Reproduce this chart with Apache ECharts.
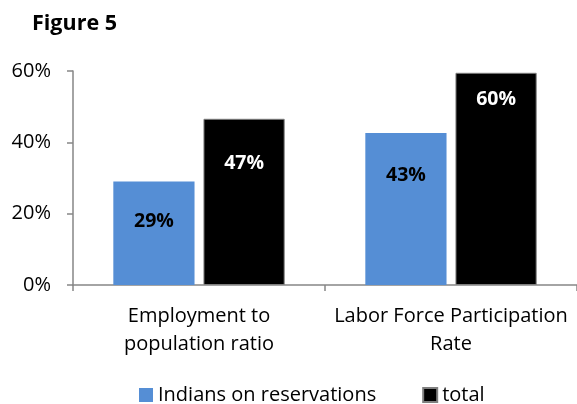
<!DOCTYPE html>
<html><head><meta charset="utf-8">
<script src="https://cdn.jsdelivr.net/npm/echarts@6/dist/echarts.min.js"></script>
<style>html,body{margin:0;padding:0;background:#fff}#c{width:577px;height:404px}</style>
</head><body><div id="c"></div>
<script>
const categories = ['Employment to\npopulation ratio', 'Labor Force Participation\nRate'];
const seriesNames = ['Indians on reservations', 'total'];
const indians = [29.0, 42.6];
const total = [46.6, 59.5];
const yTicks = [0, 20, 40, 60];

const FONT = 'Open Sans';
const labelDist = [[30, 32], [35, 17]];
const chart = echarts.init(document.getElementById('c'));
function mk(name, vals, color, txt, dists, border) {
  return {
    name, type: 'bar', barGap: '11%', barCategoryGap: '32%',
    itemStyle: { color, borderColor: border, borderWidth: border ? 1 : 0 },
    data: vals.map((v, i) => ({
      value: v,
      label: { show: true, position: 'insideTop', distance: dists[i], color: txt,
        fontFamily: FONT, fontWeight: 'bold', fontSize: 19.5,
        formatter: p => Math.round(p.value) + '%' }
    }))
  };
}
chart.setOption({
  animation: false,
  title: { text: 'Figure 5', left: 27, top: 8,
    textStyle: { fontFamily: FONT, fontWeight: 'bold', fontSize: 21.5, color: '#000' } },
  grid: { left: 73, top: 71, width: 506, bottom: 119, containLabel: false },
  legend: { top: 385, left: 139, itemWidth: 14, itemHeight: 14, itemGap: 46,
    padding: 0, icon: 'rect', textStyle: { fontFamily: FONT, fontSize: 20, color: '#000' },
    data: seriesNames },
  xAxis: { type: 'category', data: categories,
    axisLine: { lineStyle: { color: '#868686', width: 1.5 } },
    axisTick: { show: true, length: 6, lineStyle: { color: '#868686', width: 1.5 } },
    axisLabel: { interval: 0, fontFamily: FONT, fontSize: 20, color: '#000', margin: 17, lineHeight: 28 } },
  yAxis: { type: 'value', min: yTicks[0], max: yTicks[yTicks.length - 1], interval: 20,
    splitLine: { show: false },
    axisLine: { show: true, lineStyle: { color: '#868686', width: 1.5 } },
    axisTick: { show: true, length: 6, lineStyle: { color: '#868686', width: 1.5 } },
    axisLabel: { fontFamily: FONT, fontSize: 20, color: '#000', margin: 22,
      formatter: v => v + '%' } },
  series: [
    mk(seriesNames[0], indians, '#558ED5', '#000', labelDist[0], null),
    mk(seriesNames[1], total, '#000000', '#fff', labelDist[1], '#7f7f7f')
  ]
});
</script></body></html>
